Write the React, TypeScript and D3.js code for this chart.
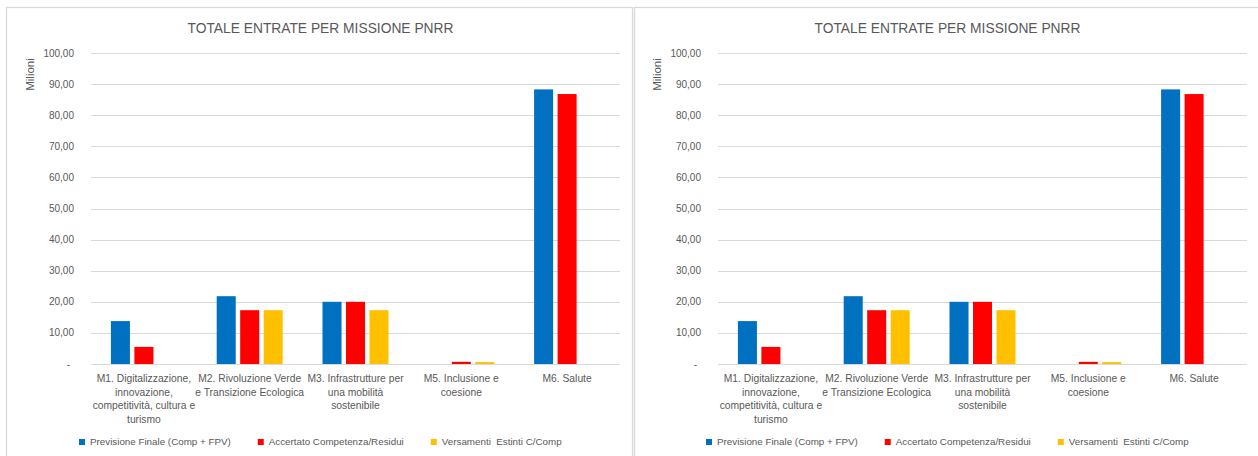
import React, { useEffect, useRef } from "react";
import * as d3 from "d3";

const categories = [
  "M1. Digitalizzazione,\ninnovazione,\ncompetitività, cultura e\nturismo",
  "M2. Rivoluzione Verde\ne Transizione Ecologica",
  "M3. Infrastrutture per\nuna mobilità\nsostenibile",
  "M5. Inclusione e\ncoesione",
  "M6. Salute",
];
const seriesNames = [
  "Previsione Finale (Comp + FPV)",
  "Accertato Competenza/Residui",
  "Versamenti  Estinti C/Comp",
];
const seriesColors = ["#0070C0", "#FF0000", "#FFC000"];
const previsione = [13.8, 21.8, 20.0, 0, 88.3];
const accertato = [5.5, 17.3, 20.0, 0.7, 86.8];
const versamenti = [0, 17.3, 17.3, 0.6, 0];
const yTicks = [0, 10, 20, 30, 40, 50, 60, 70, 80, 90, 100];
const title = "TOTALE ENTRATE PER MISSIONE PNRR";
const yTitle = "Milioni";

const W = 1258;
const H = 456;
const FONT = "'Liberation Sans', Arial, sans-serif";
const TXT = "#595959";
const GRID = "#d9d9d9";

export default function App() {
  const ref = useRef<SVGSVGElement | null>(null);
  useEffect(() => {
    document.body.style.margin = "0";
    const svg = d3.select(ref.current);
    svg.selectAll("*").remove();
    const series = [previsione, accertato, versamenti];
    const locale = d3.formatLocale({ decimal: ",", thousands: ".", grouping: [3], currency: ["€", ""] });
    const fmt = locale.format(",.2f");

    const panelOffsets = [0, 627];
    panelOffsets.forEach((ox, pi) => {
      const g = svg.append("g").attr("transform", `translate(${ox},0)`);
      // panel border
      g.append("rect")
        .attr("x", 6.5 + (pi === 1 ? 1 : 0))
        .attr("y", 7.5)
        .attr("width", 626)
        .attr("height", 500)
        .attr("fill", "white")
        .attr("stroke", GRID)
        .attr("stroke-width", 1.3);

      const x = d3.scaleBand<number>().domain(d3.range(categories.length)).range([91, 620]).padding(0);
      const y = d3.scaleLinear().domain([0, 100]).range([364, 53]);
      const bw = x.bandwidth();
      const xs = d3
        .scaleBand<number>()
        .domain(d3.range(series.length))
        .range([bw / 2 - 33, bw / 2 + 33])
        .paddingInner(0.19)
        .paddingOuter(0);

      // gridlines
      g.append("g")
        .selectAll("line")
        .data(yTicks)
        .join("line")
        .attr("x1", 91)
        .attr("x2", 620)
        .attr("y1", (d) => Math.round(y(d)) + 0.5)
        .attr("y2", (d) => Math.round(y(d)) + 0.5)
        .attr("stroke", GRID)
        .attr("stroke-width", 1.2);

      // tick labels
      g.append("g")
        .selectAll("text")
        .data(yTicks)
        .join("text")
        .attr("x", (d) => (d === 0 ? 70 : 74))
        .attr("y", (d) => y(d))
        .attr("dy", "0.35em")
        .attr("text-anchor", "end")
        .attr("font-family", FONT)
        .attr("font-size", 10)
        .attr("fill", TXT)
        .text((d) => (d === 0 ? "-" : fmt(d)));

      // y title
      g.append("text")
        .attr("transform", `translate(34,74.5) rotate(-90)`)
        .attr("text-anchor", "middle")
        .attr("font-family", FONT)
        .attr("font-size", 11.5)
        .attr("fill", TXT)
        .text(yTitle);

      // title
      g.append("text")
        .attr("x", 320.5)
        .attr("y", 33)
        .attr("text-anchor", "middle")
        .attr("font-family", FONT)
        .attr("font-size", 13.8)
        .attr("fill", TXT)
        .text(title);

      // bars
      series.forEach((vals, si) => {
        g.append("g")
          .selectAll("rect")
          .data(vals.map((v, i) => ({ v, i })).filter((d) => d.v > 0))
          .join("rect")
          .attr("x", (d) => (x(d.i) as number) + (xs(si) as number))
          .attr("y", (d) => y(d.v))
          .attr("width", xs.bandwidth())
          .attr("height", (d) => y(0) - y(d.v))
          .attr("fill", seriesColors[si]);
      });

      // category labels
      const cl = g.append("g");
      categories.forEach((c, i) => {
        const t = cl
          .append("text")
          .attr("text-anchor", "middle")
          .attr("font-family", FONT)
          .attr("font-size", 10.3)
          .attr("fill", TXT);
        c.split("\n").forEach((line, li) => {
          t.append("tspan")
            .attr("x", (x(i) as number) + bw / 2)
            .attr("y", 378.3 + li * 13.6)
            .attr("dy", "0.35em")
            .text(line);
        });
      });

      // legend
      const lg = g.append("g");
      let lx = 79;
      const ly = 442;
      seriesNames.forEach((name, si) => {
        lg.append("rect")
          .attr("x", lx)
          .attr("y", ly - 3)
          .attr("width", 6)
          .attr("height", 6)
          .attr("fill", seriesColors[si]);
        const t = lg
          .append("text")
          .attr("x", lx + 11)
          .attr("y", ly)
          .attr("dy", "0.35em")
          .attr("font-family", FONT)
          .attr("font-size", 9.8)
          .attr("fill", TXT)
          .style("white-space", "pre")
          .text(name);
        const len = (t.node() as SVGTextElement).getComputedTextLength();
        lx = lx + 11 + len + 27;
      });
    });
  }, []);
  return <svg ref={ref} width={W} height={H} style={{ display: "block", background: "white" }} />;
}
